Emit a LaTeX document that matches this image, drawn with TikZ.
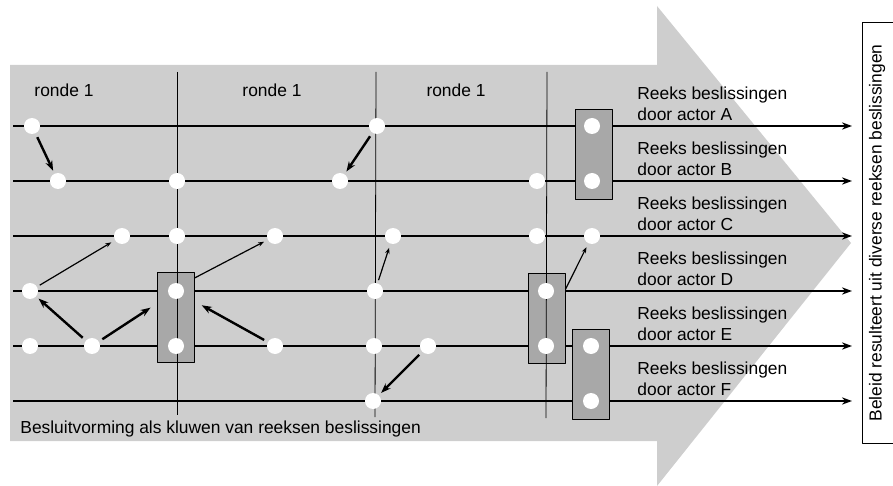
\documentclass[tikz,border=0pt]{standalone}
\usepackage{fontspec}
\setmainfont{Liberation Sans}
\usetikzlibrary{arrows.meta}

\definecolor{vlakgrijs}{RGB}{206,206,206}
\definecolor{blokgrijs}{RGB}{168,168,168}

\begin{document}
\begin{tikzpicture}[x=0.5pt, y=-0.5pt, font=\fontsize{8.7}{10.6}\selectfont, line join=round, >=Stealth,
  punt/.style={circle, fill=white, inner sep=0pt, minimum size=8pt},
  blok/.style={draw, fill=blokgrijs, line width=0.5pt, minimum width=18.5pt, minimum height=45pt, inner sep=0pt},
  reeks/.style={line width=0.9pt, -{Stealth[length=5pt,width=3.6pt]}},
  dik/.style={line width=1.2pt, -{Stealth[length=5pt,width=3.6pt]}, shorten <=2pt, shorten >=1.5pt},
  dun/.style={line width=0.6pt, -{Stealth[length=3pt,width=2.2pt]}, shorten <=1.5pt, shorten >=2pt}]
\useasboundingbox (0,0) rectangle (893,486);
% grote pijl als achtergrond
\fill[vlakgrijs] (10,65) -- (657,65) -- (657,6) -- (851,243) -- (657,486) -- (657,441) -- (10,441) -- cycle;
% reeksen per actor
\foreach \r/\y in {A/126,B/181,C/236,D/291,E/346,F/401}{
  \coordinate (s\r) at (13,\y);
  \coordinate (t\r) at (852,\y);
  \draw[reeks] (s\r) -- (t\r);
  \node[anchor=south west, align=left, inner sep=0pt] (lab\r) at (637,\y-5) {Reeks beslissingen\\door actor \r};
}
% arenas
\node[blok] (k1) at (593.5,155) {};
\node[blok] (k2) at (175.5,317) {};
\node[blok] (k3) at (546.5,318.5) {};
\node[blok] (k4) at (591,374) {};
% rondes
\draw[line width=0.4pt] (177,72) -- (177,415);
\draw[line width=0.4pt] (376,72) -- (375,417);
\draw[line width=0.4pt] (547,72) -- (546,418);
\node (r1) at (64,90) {ronde 1};
\node (r2) at (272,90) {ronde 1};
\node (r3) at (456,90) {ronde 1};
\node[anchor=west, inner sep=0pt] (titel) at (20,429) {Besluitvorming als kluwen van reeksen beslissingen};
% beslissingen
\node[punt] (a1) at (32,126) {};
\node[punt] (a2) at (377,126) {};
\node[punt] (a3) at (592,126) {};
\node[punt] (b1) at (58,181) {};
\node[punt] (b2) at (177,181) {};
\node[punt] (b3) at (340,181) {};
\node[punt] (b4) at (537,181) {};
\node[punt] (b5) at (592,181) {};
\node[punt] (c1) at (122,236) {};
\node[punt] (c2) at (177,236) {};
\node[punt] (c3) at (275,236) {};
\node[punt] (c4) at (393,236) {};
\node[punt] (c5) at (537,236) {};
\node[punt] (c6) at (592,236) {};
\node[punt] (d1) at (30,291) {};
\node[punt] (d2) at (176,291) {};
\node[punt] (d3) at (375,291) {};
\node[punt] (d4) at (546,291) {};
\node[punt] (e1) at (30,346) {};
\node[punt] (e2) at (92,346) {};
\node[punt] (e3) at (176,346) {};
\node[punt] (e4) at (275,346) {};
\node[punt] (e5) at (374,346) {};
\node[punt] (e6) at (428,346) {};
\node[punt] (e7) at (546,346) {};
\node[punt] (e8) at (591,346) {};
\node[punt] (f1) at (373,401) {};
\node[punt] (f2) at (591,401) {};
% invloeden
\draw[dik] (a1) -- (b1);
\draw[dik] (a2) -- (b3);
\draw[dik] (e2) -- (d1);
\draw[dik, shorten >=11pt] (e2) -- (d2);
\draw[dik, shorten >=10.5pt] (e4) -- (d2);
\draw[dik] (e6) -- (f1);
\draw[dun] (d1) -- (c1);
\draw[dun, shorten <=0pt] (k2.64) -- (c3);
\draw[dun] (d3) -- (c4);
\draw[dun, shorten <=0pt] (k3.57) -- (c6);
% beleid
\draw[line width=0.5pt] (893,23) -- (862,23) -- (862,443) -- (893,443);
\node[rotate=90] (beleid) at (877,233) {Beleid resulteert uit diverse reeksen beslissingen};
\end{tikzpicture}
\end{document}
